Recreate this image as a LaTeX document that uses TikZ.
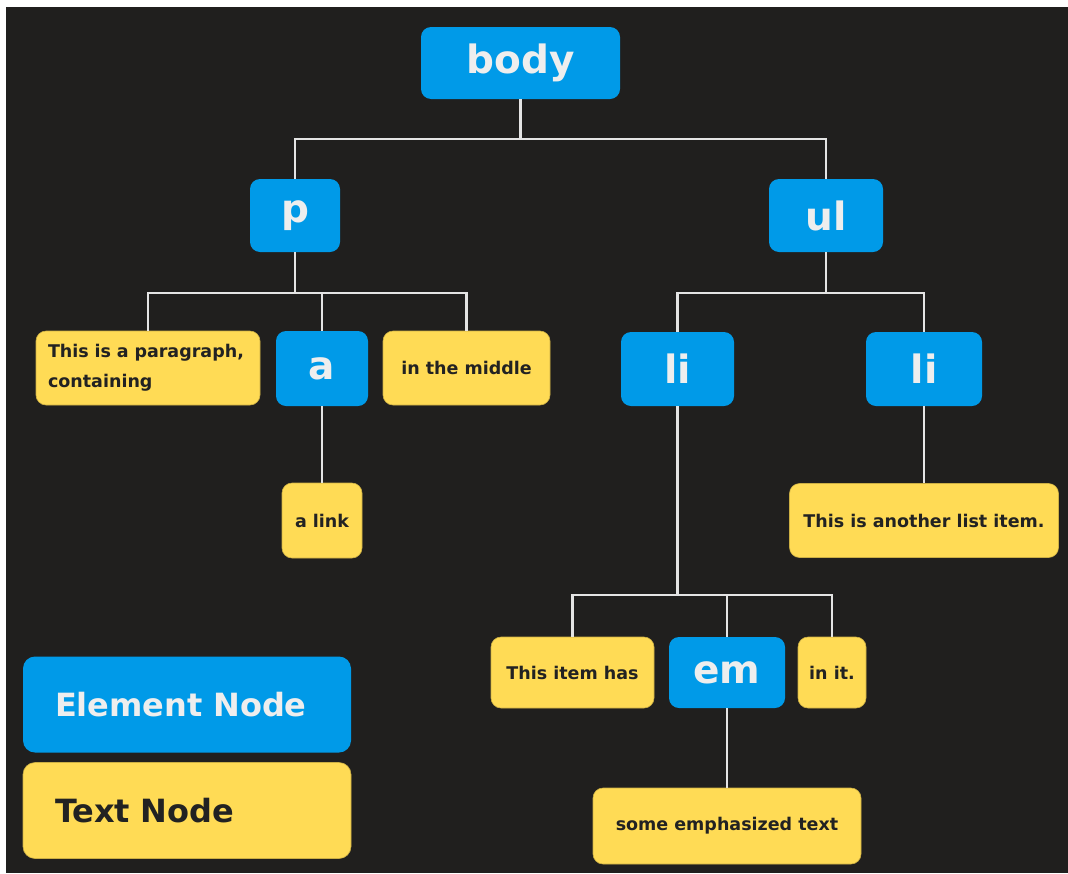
\documentclass[tikz,border=0pt]{standalone}
\usepackage{fontspec}
\setmainfont{DejaVu Sans}
\usetikzlibrary{positioning}
\definecolor{elemblue}{HTML}{009AE8}
\definecolor{textyellow}{HTML}{FFDB55}
\definecolor{bgdark}{HTML}{201F1E}
\definecolor{linegray}{HTML}{E4E4E4}
\definecolor{labelwhite}{HTML}{EEEEEE}
\definecolor{labeldark}{HTML}{222222}

\begin{document}
\begin{tikzpicture}[x=1pt,y=-1pt,
    elem/.style={fill=elemblue, rounded corners=10pt, inner sep=0pt, text=labelwhite, font=\bfseries\fontsize{39}{47}\selectfont},
    txt/.style={fill=textyellow, draw=textyellow!80!black, line width=0.6pt, rounded corners=10pt, inner sep=0pt, text=labeldark, font=\bfseries\fontsize{17.5}{30}\selectfont},
    legendbox/.style={rounded corners=12pt, inner ysep=0pt, inner xsep=32pt, text width=264pt, align=left, minimum height=96pt, font=\bfseries\fontsize{32}{38}\selectfont},
    link/.style={draw=linegray, line width=2.5pt}]
    % Frame
    \useasboundingbox (0,0) rectangle (1068,873);
    \fill[white] (0,0) rectangle (1068,873);
    \fill[bgdark] (6,7) rectangle (1068,873);

    % Element nodes
    \node[elem, minimum width=199pt, minimum height=72pt] (body) at (520.5,63) {body};
    \node[elem, minimum width=90pt, minimum height=73pt] (p) at (295,215.5) {p};
    \node[elem, minimum width=114pt, minimum height=73pt] (ul) at (826,215.5) {ul};
    \node[elem, minimum width=92pt, minimum height=75pt] (a) at (322,368.5) {a};
    \node[elem, minimum width=113pt, minimum height=74pt] (li1) at (677.5,369) {li};
    \node[elem, minimum width=116pt, minimum height=74pt] (li2) at (924,369) {li};
    \node[elem, minimum width=116pt, minimum height=71pt] (em) at (727,672.5) {em};

    % Text nodes
    \node[txt, minimum height=74pt, inner xsep=12pt, text width=200pt, align=left] (para) at (148,368) {This is a paragraph,\\containing};
    \node[txt, minimum width=167pt, minimum height=74pt] (mid) at (466.5,368) {in the middle};
    \node[txt, minimum width=80pt, minimum height=75pt] (alink) at (322,520.5) {a link};
    \node[txt, minimum width=269pt, minimum height=74pt] (another) at (924,520.5) {This is another list item.};
    \node[txt, minimum width=163pt, minimum height=71pt] (has) at (572.5,672.5) {This item has};
    \node[txt, minimum width=68pt, minimum height=71pt] (init) at (832,672.5) {in it.};
    \node[txt, minimum width=268pt, minimum height=76pt] (emtext) at (727,826) {some emphasized text};

    % Connectors
    \foreach \c in {p,ul}
        \draw[link] (body.south) -- ++(0,40) -| (\c.north);
    \foreach \c in {para,a,mid}
        \draw[link] (p.south) -- ++(0,41) -| (\c.north);
    \foreach \c in {li1,li2}
        \draw[link] (ul.south) -- ++(0,41) -| (\c.north);
    \foreach \c in {has,em,init}
        \draw[link] (li1.south) -- ++(0,189) -| (\c.north);
    \draw[link] (a.south) -- (alink.north);
    \draw[link] (li2.south) -- (another.north);
    \draw[link] (em.south) -- (emtext.north);

    % Legend
    \node[legendbox, fill=elemblue, text=labelwhite] (legelem) at (187,704.5) {Element Node};
    \node[legendbox, fill=textyellow, draw=textyellow!80!black, line width=0.6pt, text=labeldark] (legtext) at (187,810.5) {Text Node};
\end{tikzpicture}
\end{document}
